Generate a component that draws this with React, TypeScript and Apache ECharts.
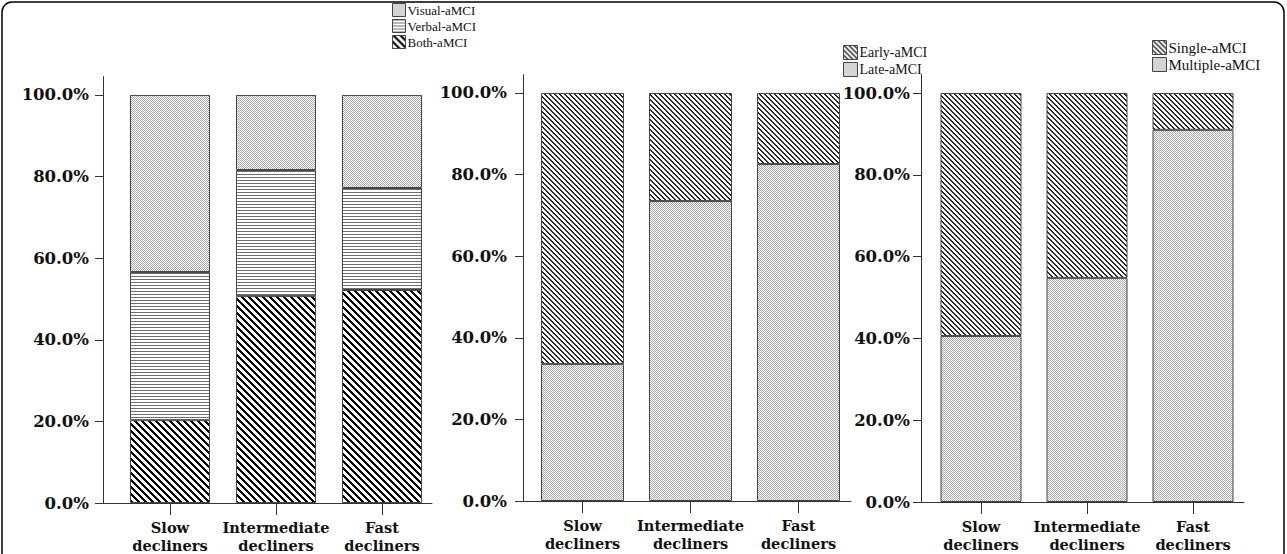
import React, { useEffect, useRef } from 'react';
import * as echarts from 'echarts';

const categories = ['Slow\ndecliners', 'Intermediate\ndecliners', 'Fast\ndecliners'];
const yTicks = [0, 20, 40, 60, 80, 100];
const catTicks = [0, 1, 2];

// Panel 1 (percent of group)
const bothAMCI = [20.3, 50.7, 52.2];
const verbalAMCI = [36.3, 30.9, 25.0];
const visualAMCI = [43.4, 18.4, 22.8];
// Panel 2
const lateAMCI = [33.6, 73.5, 82.6];
const earlyAMCI = [66.4, 26.5, 17.4];
// Panel 3
const multipleAMCI = [40.6, 54.8, 91.0];
const singleAMCI = [59.4, 45.2, 9.0];

function makeTile(w: number, h: number, fg: string, test: (x: number, y: number) => boolean) {
  const c = document.createElement('canvas');
  c.width = w;
  c.height = h;
  const ctx = c.getContext('2d')!;
  ctx.fillStyle = '#ffffff';
  ctx.fillRect(0, 0, w, h);
  ctx.fillStyle = fg;
  for (let y = 0; y < h; y++) {
    for (let x = 0; x < w; x++) {
      if (test(x, y)) ctx.fillRect(x, y, 1, 1);
    }
  }
  return { image: c.toDataURL(), repeat: 'repeat', imageWidth: w, imageHeight: h } as any;
}

const SERIF = 'DejaVu Serif';

export default function App() {
  const ref = useRef<HTMLDivElement>(null);
  useEffect(() => {
    if (!ref.current) return;
    const chart = echarts.init(ref.current, undefined, { renderer: 'svg' });

    const dots = makeTile(4, 4, '#a8a8a8', (x, y) => (x + y) % 2 === 0);
    const hlines = makeTile(4, 3, '#6e6e6e', (_x, y) => y === 0);
    const boldDiag = makeTile(7, 7, '#000000', (x, y) => ((x - y) % 7 + 7) % 7 < 3);
    const fineDiag = makeTile(5, 5, '#2a2a2a', (x, y) => ((x - y) % 5 + 5) % 5 < 2);

    const panels = [
      { left: 103, width: 329, top: 76.6, height: 426.4, min: -0.632, max: 2.472, labelMargin: 14, barWidth: 80 },
      { left: 523, width: 328, top: 74.6, height: 426.4, min: -0.551, max: 2.486, labelMargin: 16, barWidth: 83 },
      { left: 921, width: 323, top: 74.6, height: 427.4, min: -0.566, max: 2.481, labelMargin: 11, barWidth: 81 },
    ];

    const axisColor = '#333';
    const grids = panels.map((p) => ({ left: p.left, width: p.width, top: p.top, height: p.height }));
    const xAxes = panels.map((p, i) => ({
      type: 'value',
      gridIndex: i,
      min: p.min,
      max: p.max,
      axisLine: { show: true, onZero: false, lineStyle: { color: axisColor, width: 1 } },
      axisTick: { show: true, customValues: catTicks, length: 12, lineStyle: { color: axisColor } },
      axisLabel: {
        customValues: catTicks,
        formatter: (v: number) => categories[Math.round(v)] ?? '',
        fontFamily: SERIF,
        fontWeight: 'bold',
        fontSize: 14.6,
        lineHeight: 18,
        color: '#111',
        margin: 15,
      },
      splitLine: { show: false },
    }));
    const yAxes = panels.map((p, i) => ({
      type: 'value',
      gridIndex: i,
      min: 0,
      max: 104.5,
      axisLine: { show: true, onZero: false, lineStyle: { color: axisColor, width: 1 } },
      axisTick: { show: true, customValues: yTicks, length: 8, lineStyle: { color: axisColor } },
      axisLabel: {
        customValues: yTicks,
        formatter: (v: number) => v.toFixed(1) + '%',
        fontFamily: SERIF,
        fontWeight: 'bold',
        fontSize: 16.5,
        color: '#111',
        margin: p.labelMargin,
      },
      splitLine: { show: false },
    }));

    const mk = (name: string, values: number[], panel: number, color: any) => ({
      name,
      type: 'bar',
      xAxisIndex: panel,
      yAxisIndex: panel,
      stack: 'p' + panel,
      barWidth: panels[panel].barWidth,
      data: values.map((v, i) => [v, i]),
      encode: { x: 1, y: 0 },
      itemStyle: { color, borderColor: '#444', borderWidth: 1 },
      emphasis: { disabled: true },
    });

    const series = [
      mk('Both-aMCI', bothAMCI, 0, boldDiag),
      mk('Verbal-aMCI', verbalAMCI, 0, hlines),
      mk('Visual-aMCI', visualAMCI, 0, dots),
      mk('Late-aMCI', lateAMCI, 1, dots),
      mk('Early-aMCI', earlyAMCI, 1, fineDiag),
      mk('Multiple-aMCI', multipleAMCI, 2, dots),
      mk('Single-aMCI', singleAMCI, 2, fineDiag),
    ];

    const legendBase = (left: number, top: number, size: number, fontSize: number, data: string[]) => ({
      orient: 'vertical',
      left,
      top,
      itemWidth: size,
      itemHeight: size,
      itemGap: 2,
      icon: 'rect',
      padding: 0,
      selectedMode: false,
      data,
      itemStyle: { borderColor: '#444', borderWidth: 1 },
      textStyle: { fontFamily: 'Liberation Serif', fontSize, color: '#111', padding: [0, 0, 0, -3] },
    });

    chart.setOption({
      animation: false,
      backgroundColor: '#ffffff',
      grid: grids,
      xAxis: xAxes,
      yAxis: yAxes,
      series,
      legend: [
        legendBase(392, 3, 13, 13, ['Visual-aMCI', 'Verbal-aMCI', 'Both-aMCI']),
        legendBase(843, 45, 14, 14, ['Early-aMCI', 'Late-aMCI']),
        legendBase(1152, 40, 14, 15, ['Single-aMCI', 'Multiple-aMCI']),
      ],
      graphic: [
        {
          type: 'rect',
          silent: true,
          shape: { x: 2, y: 2, width: 1282, height: 640, r: 10 },
          style: { fill: 'none', stroke: '#000', lineWidth: 1.5 },
        },
      ],
    });

    return () => chart.dispose();
  }, []);

  return <div ref={ref} style={{ position: 'absolute', left: 0, top: 0, width: 1287, height: 554 }} />;
}
